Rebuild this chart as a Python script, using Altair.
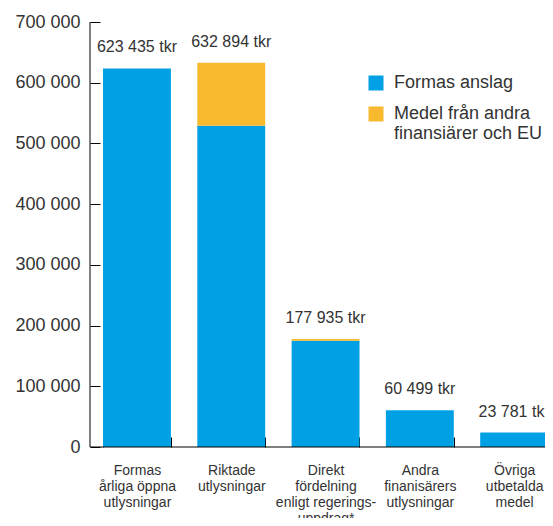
import altair as alt
import pandas as pd

categories = [
    "Formas\nårliga öppna\nutlysningar",
    "Riktade\nutlysningar",
    "Direkt\nfördelning\nenligt regerings-\nuppdrag*",
    "Andra\nfinanisärers\nutlysningar",
    "Övriga\nutbetalda\nmedel",
]
series = ["Formas anslag", "Medel från andra finansiärer och EU"]
formas_anslag = [623435, 529000, 174935, 60499, 23781]
andra_medel = [0, 103894, 3000, 0, 0]
totals = [623435, 632894, 177935, 60499, 23781]
colors = ["#00A1E4", "#F7B92E"]

rows = []
for c, a, b in zip(categories, formas_anslag, andra_medel):
    rows.append({"cat": c, "series": series[0], "value": a, "ord": 0})
    rows.append({"cat": c, "series": series[1], "value": b, "ord": 1})
df = pd.DataFrame(rows)

lab_df = pd.DataFrame({
    "cat": categories,
    "total": totals,
    "label": [f"{t:,}".replace(",", " ") + " tkr" for t in totals],
})

W, H = 455, 425
XR = 463
FONT = "Liberation Sans"
TXT = "#333333"

xscale = alt.Scale(domain=categories, range=[0, XR], paddingInner=0.28, paddingOuter=0.095, align=0.726)
yscale = alt.Scale(domain=[0, 700000], nice=False)

bars = alt.Chart(df).mark_bar().encode(
    x=alt.X("cat:N", sort=categories, scale=xscale, title=None,
            axis=alt.Axis(offset=-10, domain=False, tickBand="extent", tickSize=10,
                          tickColor="#000000", labelAngle=0, labelPadding=16,
                          labelFontSize=14, labelLineHeight=16, labelColor=TXT,
                          labelFont=FONT, labelExpr="split(datum.label, '\\n')")),
    y=alt.Y("value:Q", stack="zero", scale=yscale, title=None,
            axis=alt.Axis(offset=-10, domain=False, values=[0, 100000, 200000, 300000, 400000, 500000, 600000, 700000],
                          tickSize=10, tickColor="#000000", labelPadding=10, labelFontSize=18,
                          labelColor=TXT, labelFont=FONT, grid=False,
                          labelExpr="replace(datum.label, ',', ' ')")),
    color=alt.Color("series:N", scale=alt.Scale(domain=series, range=colors),
                    legend=alt.Legend(title=None, orient="none", legendX=277, legendY=52,
                                      symbolType="square", symbolSize=225, symbolStrokeWidth=0,
                                      labelFontSize=18, labelFont=FONT, labelColor=TXT,
                                      labelOffset=9, rowPadding=13, labelLimit=300,
                                      labelExpr="datum.label == 'Medel från andra finansiärer och EU' ? ['Medel från andra', 'finansiärer och EU'] : datum.label")),
    order=alt.Order("ord:Q"),
)

labels = alt.Chart(lab_df).mark_text(dy=-21, fontSize=16, font=FONT, color=TXT, baseline="middle").encode(
    x=alt.X("cat:N", sort=categories, scale=xscale),
    y=alt.Y("total:Q", scale=yscale),
    text="label:N",
)

one = pd.DataFrame({"a": [0]})
yline = alt.Chart(one).mark_rule(color="#000000", strokeWidth=1).encode(
    x=alt.value(0), y=alt.value(0), y2=alt.value(H))
xline = alt.Chart(one).mark_rule(color="#000000", strokeWidth=1).encode(
    x=alt.value(0), x2=alt.value(XR), y=alt.value(H))

chart = alt.layer(bars, labels, yline, xline).properties(
    width=W, height=H,
    autosize=alt.AutoSizeParams(type="none"),
    padding={"left": 82, "top": 14, "right": 0, "bottom": 71},
).configure_view(stroke=None)

chart.save("out.html", embed_options={"renderer": "svg", "actions": False})
